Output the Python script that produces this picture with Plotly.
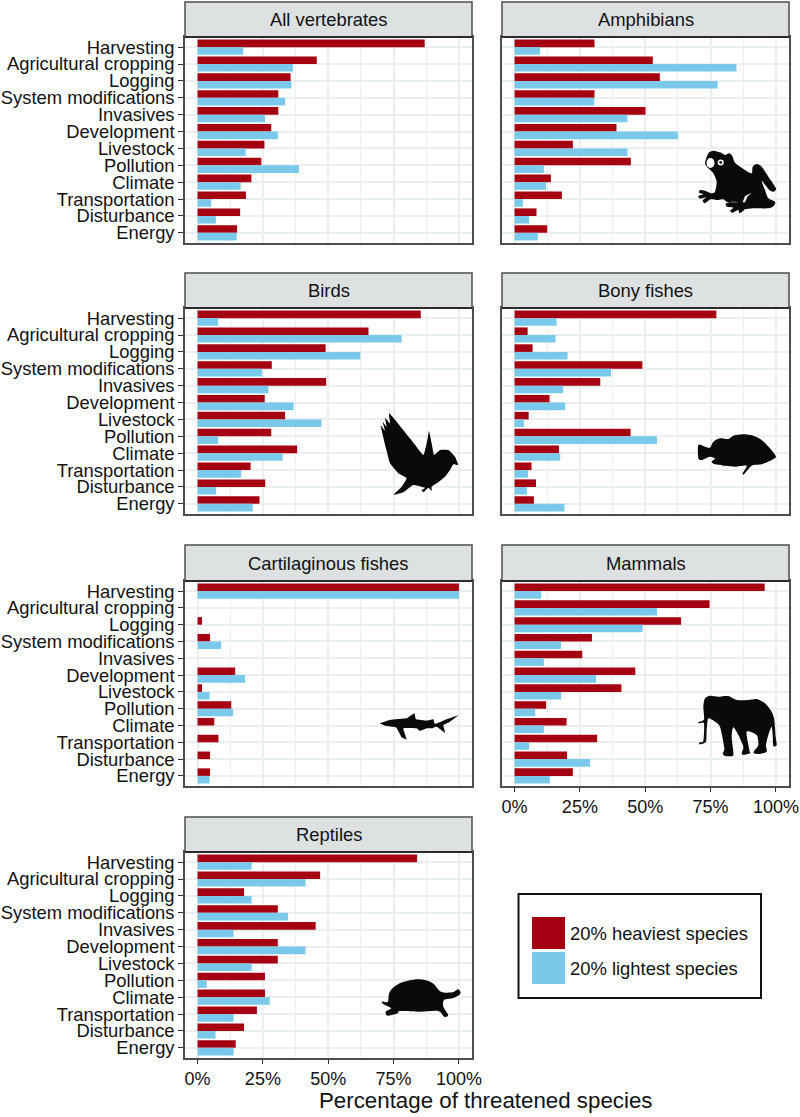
import plotly.graph_objects as go

threats = ["Harvesting", "Agricultural cropping", "Logging", "System modifications", "Invasives",
           "Development", "Livestock", "Pollution", "Climate", "Transportation", "Disturbance", "Energy"]
x_ticks = [0, 25, 50, 75, 100]
x_tick_labels = ["0%", "25%", "50%", "75%", "100%"]

all_heavy = [86.9, 45.6, 35.6, 30.9, 30.9, 28.2, 25.6, 24.4, 20.6, 18.5, 16.3, 15.1]
all_light = [17.5, 36.5, 35.9, 33.5, 25.8, 30.7, 18.4, 38.8, 16.5, 5.2, 7.0, 15.0]
amphibians_heavy = [30.6, 52.9, 55.6, 30.6, 50.1, 39.0, 22.3, 44.5, 13.9, 18.1, 8.4, 12.5]
amphibians_light = [9.7, 84.9, 77.7, 30.5, 43.2, 62.5, 43.2, 11.2, 12.0, 3.2, 5.6, 8.9]
birds_heavy = [85.4, 65.4, 49.0, 28.4, 49.2, 25.7, 33.5, 28.2, 38.1, 20.3, 25.9, 23.7]
birds_light = [7.9, 78.1, 62.3, 24.7, 27.1, 36.8, 47.4, 7.9, 32.5, 16.7, 7.1, 21.1]
bony_heavy = [77.2, 5.0, 6.9, 48.9, 32.8, 13.4, 5.4, 44.4, 17.0, 6.5, 8.2, 7.4]
bony_light = [16.1, 15.7, 20.3, 36.9, 18.6, 19.4, 3.6, 54.5, 17.5, 5.2, 4.7, 19.1]
cartilaginous_heavy = [100, 0, 1.7, 4.8, 0, 14.4, 1.7, 12.9, 6.4, 8.0, 4.8, 4.8]
cartilaginous_light = [100, 0, 0, 9.0, 0, 18.2, 4.6, 13.6, 0, 0, 0, 4.6]
mammals_heavy = [95.7, 74.6, 63.7, 29.6, 25.9, 46.2, 40.9, 12.1, 19.9, 31.6, 20.1, 22.3]
mammals_light = [10.2, 54.5, 49.0, 17.8, 11.2, 31.2, 17.8, 7.9, 11.2, 5.6, 28.9, 13.5]
reptiles_heavy = [84.0, 46.9, 17.8, 30.7, 45.2, 30.7, 30.7, 25.8, 25.8, 22.7, 17.8, 14.6]
reptiles_light = [20.7, 41.3, 20.7, 34.6, 13.8, 41.3, 20.7, 3.5, 27.6, 13.8, 6.9, 13.8]

W, H = 800, 1117
RED, BLUE = "#a50011", "#7bc9ea"
FONT = "Liberation Sans"
INK = "#111111"
BORDER = "#4d4d4d"
GRID = "#ebeff1"

# title, heavy, light, column, row
panels = [
    ("All vertebrates", all_heavy, all_light, 0, 0),
    ("Amphibians", amphibians_heavy, amphibians_light, 1, 0),
    ("Birds", birds_heavy, birds_light, 0, 1),
    ("Bony fishes", bony_heavy, bony_light, 1, 1),
    ("Cartilaginous fishes", cartilaginous_heavy, cartilaginous_light, 0, 2),
    ("Mammals", mammals_heavy, mammals_light, 1, 2),
    ("Reptiles", reptiles_heavy, reptiles_light, 0, 3),
]
col_x = [(185, 472), (502, 789)]
row_y = [(2, 37, 243), (273, 308, 514), (545, 581, 786), (817, 852, 1058)]


def px(x):
    return x / W


def py(y):
    return 1 - y / H


def poly(points, ox, oy, sx=3.0, sy=3.0, fill="#0a0a0a", t=0.18):
    """Closed outline, lightly rounded with cubic segments, in page pixels."""
    pts = [(ox + a / sx, oy + b / sy) for a, b in points]
    n = len(pts)
    d = f"M{px(pts[0][0]):.5f},{py(pts[0][1]):.5f}"
    for i in range(n):
        p0, p1, p2, p3 = pts[i - 1], pts[i], pts[(i + 1) % n], pts[(i + 2) % n]
        c1 = (p1[0] + (p2[0] - p0[0]) * t, p1[1] + (p2[1] - p0[1]) * t)
        c2 = (p2[0] - (p3[0] - p1[0]) * t, p2[1] - (p3[1] - p1[1]) * t)
        d += (f" C{px(c1[0]):.5f},{py(c1[1]):.5f} {px(c2[0]):.5f},{py(c2[1]):.5f}"
              f" {px(p2[0]):.5f},{py(p2[1]):.5f}")
    return dict(type="path", xref="paper", yref="paper", path=d + " Z", fillcolor=fill,
                line=dict(width=0), layer="above")


def circle(cx, cy, rx, ry, fill):
    return dict(type="circle", xref="paper", yref="paper", x0=px(cx - rx), x1=px(cx + rx),
                y0=py(cy + ry), y1=py(cy - ry), fillcolor=fill, line=dict(width=0), layer="above")


fig = go.Figure()
shapes, annotations = [], []
layout = {}
for i, (title, heavy, light, c, r) in enumerate(panels):
    n = "" if i == 0 else str(i + 1)
    x0, x1 = col_x[c]
    top, mid, bot = row_y[r]
    xa, ya = "x" + n, "y" + n
    fig.add_trace(go.Bar(y=threats, x=heavy, orientation="h", name="20% heaviest species", marker_color=RED,
                         marker_line_width=0, xaxis=xa, yaxis=ya, showlegend=False, offsetgroup="a"))
    fig.add_trace(go.Bar(y=threats, x=light, orientation="h", name="20% lightest species", marker_color=BLUE,
                         marker_line_width=0, xaxis=xa, yaxis=ya, showlegend=False, offsetgroup="b"))
    show_x = title in ("Mammals", "Reptiles")
    layout["xaxis" + n] = dict(
        domain=[px(x0), px(x1)], anchor=ya, automargin=False, range=[-4.8, 105], tickmode="array", tickvals=x_ticks,
        ticktext=x_tick_labels, showticklabels=show_x, ticks="outside" if show_x else "", ticklen=4, tickwidth=1.3,
        tickcolor="#333333", showgrid=True, gridcolor=GRID, gridwidth=2, zeroline=False,
        minor=dict(tickmode="array", tickvals=[12.5, 37.5, 62.5, 87.5], showgrid=True, gridcolor=GRID, gridwidth=1, ticks=""),
        showline=True, mirror=True, linecolor=BORDER, linewidth=1.5,
        tickfont=dict(family=FONT, size=18, color=INK))
    layout["yaxis" + n] = dict(
        domain=[py(bot), py(mid)], anchor=xa, automargin=False, type="category", categoryorder="array", categoryarray=threats,
        tickmode="array", tickvals=threats, ticktext=threats,
        range=[11.6, -0.6], showticklabels=c == 0, ticks="outside" if c == 0 else "", ticklen=5, tickwidth=1.3,
        tickcolor="#333333", showgrid=True, gridcolor=GRID, gridwidth=2, zeroline=False,
        showline=True, mirror=True, linecolor=BORDER, linewidth=1.5,
        tickfont=dict(family=FONT, size=18.4, color=INK))
    shapes.append(dict(type="rect", xref="paper", yref="paper", x0=px(x0), x1=px(x1), y0=py(mid), y1=py(top),
                       fillcolor="#dde1e2", line=dict(color=BORDER, width=1.5), layer="above"))
    shapes.append(dict(type="line", xref="paper", yref="paper", x0=px(x0), x1=px(x1), y0=py(mid), y1=py(mid),
                       line=dict(color="#2b2b2b", width=2), layer="above"))
    annotations.append(dict(text=title, xref="paper", yref="paper", x=px((x0 + x1) / 2), y=py((top + mid) / 2),
                            showarrow=False, xanchor="center", yanchor="middle",
                            font=dict(family=FONT, size=18.4, color=INK)))

# silhouettes (decorative drawings)
frog = [(55, 40), (70, 32), (90, 37), (105, 45), (118, 40), (128, 50), (135, 68), (165, 90), (185, 100), (188, 80),
        (200, 72), (215, 80), (235, 110), (258, 145), (250, 155), (238, 150), (215, 122), (225, 150), (235, 175),
        (255, 185), (252, 197), (235, 205), (190, 205), (165, 208), (160, 213), (148, 220), (145, 210), (128, 218),
        (120, 212), (130, 203), (110, 200), (108, 190), (125, 185), (150, 187), (112, 186), (100, 178),
        (85, 180), (62, 178), (45, 190), (38, 182), (48, 172), (30, 176), (25, 168), (40, 163), (27, 158), (30, 150),
        (45, 152), (65, 160), (75, 155), (80, 125), (70, 100), (55, 85), (45, 70)]
shapes.append(poly(frog, 690, 140, t=0.12))
shapes.append(poly([(158, 187), (165, 168), (185, 158), (172, 170), (165, 187)], 690, 140, fill="#ffffff", t=0))
shapes.append(circle(710.5, 163, 4, 5, "#ffffff"))
shapes.append(circle(720.7, 162.5, 3, 3, "#ffffff"))
shapes.append(circle(720.7, 162.5, 1.4, 1.4, "#0a0a0a"))

bird = [(57, 25), (80, 50), (120, 100), (160, 150), (172, 105), (177, 78), (185, 115), (192, 150), (210, 135),
        (235, 135), (255, 155), (265, 180), (250, 178), (240, 195), (225, 215), (200, 235), (185, 245), (185, 258),
        (175, 248), (160, 262), (155, 255), (165, 248), (130, 240), (100, 262), (70, 270), (95, 245), (110, 220),
        (85, 205), (60, 175), (48, 130), (32, 62), (45, 78), (38, 50), (50, 65), (45, 38), (60, 55)]
shapes.append(poly(bird, 370, 405, t=0.06))

fish = [(258, 95), (240, 70), (215, 45), (190, 32), (160, 28), (130, 32), (115, 42), (90, 40), (70, 50), (60, 68),
        (45, 65), (25, 60), (25, 100), (35, 105), (60, 95), (75, 100), (65, 110), (75, 118), (100, 122), (88, 128),
        (105, 122), (135, 125), (170, 122), (158, 145), (162, 148), (185, 122), (215, 118), (245, 105)]
shapes.append(poly(fish, 690, 425, t=0.12))

shark = [(30, 70), (60, 60), (110, 55), (133, 40), (138, 58), (170, 62), (190, 58), (195, 72), (225, 60), (265, 46),
         (240, 65), (220, 75), (225, 98), (200, 80), (185, 85), (170, 85), (150, 93), (140, 85), (100, 85), (110, 118),
         (95, 112), (78, 82), (45, 77)]
shapes.append(poly(shark, 370, 700, t=0.05))

elephant = [(45, 55), (60, 47), (85, 50), (115, 48), (140, 60), (175, 60), (200, 57), (225, 70), (245, 95), (253, 120),
            (257, 170), (260, 195), (250, 198), (248, 165), (245, 140), (235, 165), (228, 195), (230, 215), (210, 222),
            (190, 218), (205, 195), (200, 165), (170, 155), (178, 210), (180, 220), (160, 225), (155, 218), (160, 200),
            (145, 165), (130, 142), (125, 170), (130, 215), (128, 228), (105, 228), (98, 220), (103, 205), (90, 140),
            (75, 125), (55, 115), (50, 150), (48, 185), (30, 193), (28, 187), (40, 183), (42, 130), (28, 130), (25, 127),
            (42, 118), (40, 80)]
shapes.append(poly(elephant, 690, 680, t=0.12))

turtle = [(525, 575), (540, 575), (545, 545), (570, 520), (615, 508), (650, 518), (672, 545), (700, 547), (715, 538),
          (720, 552), (700, 565), (680, 570), (678, 590), (690, 615), (680, 620), (665, 603), (620, 605), (570, 603),
          (565, 610), (540, 617), (535, 605), (548, 595), (530, 583)]
shapes.append(poly(turtle, 170, 810, sx=2.48, sy=3.0, t=0.16))

# legend box
shapes.append(dict(type="rect", xref="paper", yref="paper", x0=px(518.5), x1=px(761), y0=py(998), y1=py(894),
                   fillcolor="#ffffff", line=dict(color="#111111", width=2)))
for (y0, y1, colr, label) in [(917, 949, RED, "20% heaviest species"), (952, 984, BLUE, "20% lightest species")]:
    shapes.append(dict(type="rect", xref="paper", yref="paper", x0=px(532), x1=px(565), y0=py(y1), y1=py(y0),
                       fillcolor=colr, line=dict(width=0)))
    annotations.append(dict(text=label, xref="paper", yref="paper", x=px(567.5), y=py((y0 + y1) / 2), showarrow=False,
                            xanchor="left", yanchor="middle", font=dict(family=FONT, size=18.4, color=INK)))

annotations.append(dict(text="Percentage of threatened species", xref="paper", yref="paper", x=px(485.5), y=py(1100),
                        showarrow=False, xanchor="center", yanchor="middle", font=dict(family=FONT, size=22.3, color=INK)))

fig.update_layout(width=W, height=H, margin=dict(l=0, r=0, t=0, b=0, autoexpand=False), paper_bgcolor="#ffffff", plot_bgcolor="#ffffff",
                  barmode="group", bargap=0.1, bargroupgap=0, showlegend=False, shapes=shapes, annotations=annotations,
                  **layout)
fig.write_html("out.html", config={"displayModeBar": False, "responsive": False},
               post_script="document.body.style.margin='0';document.body.style.overflow='hidden';")
